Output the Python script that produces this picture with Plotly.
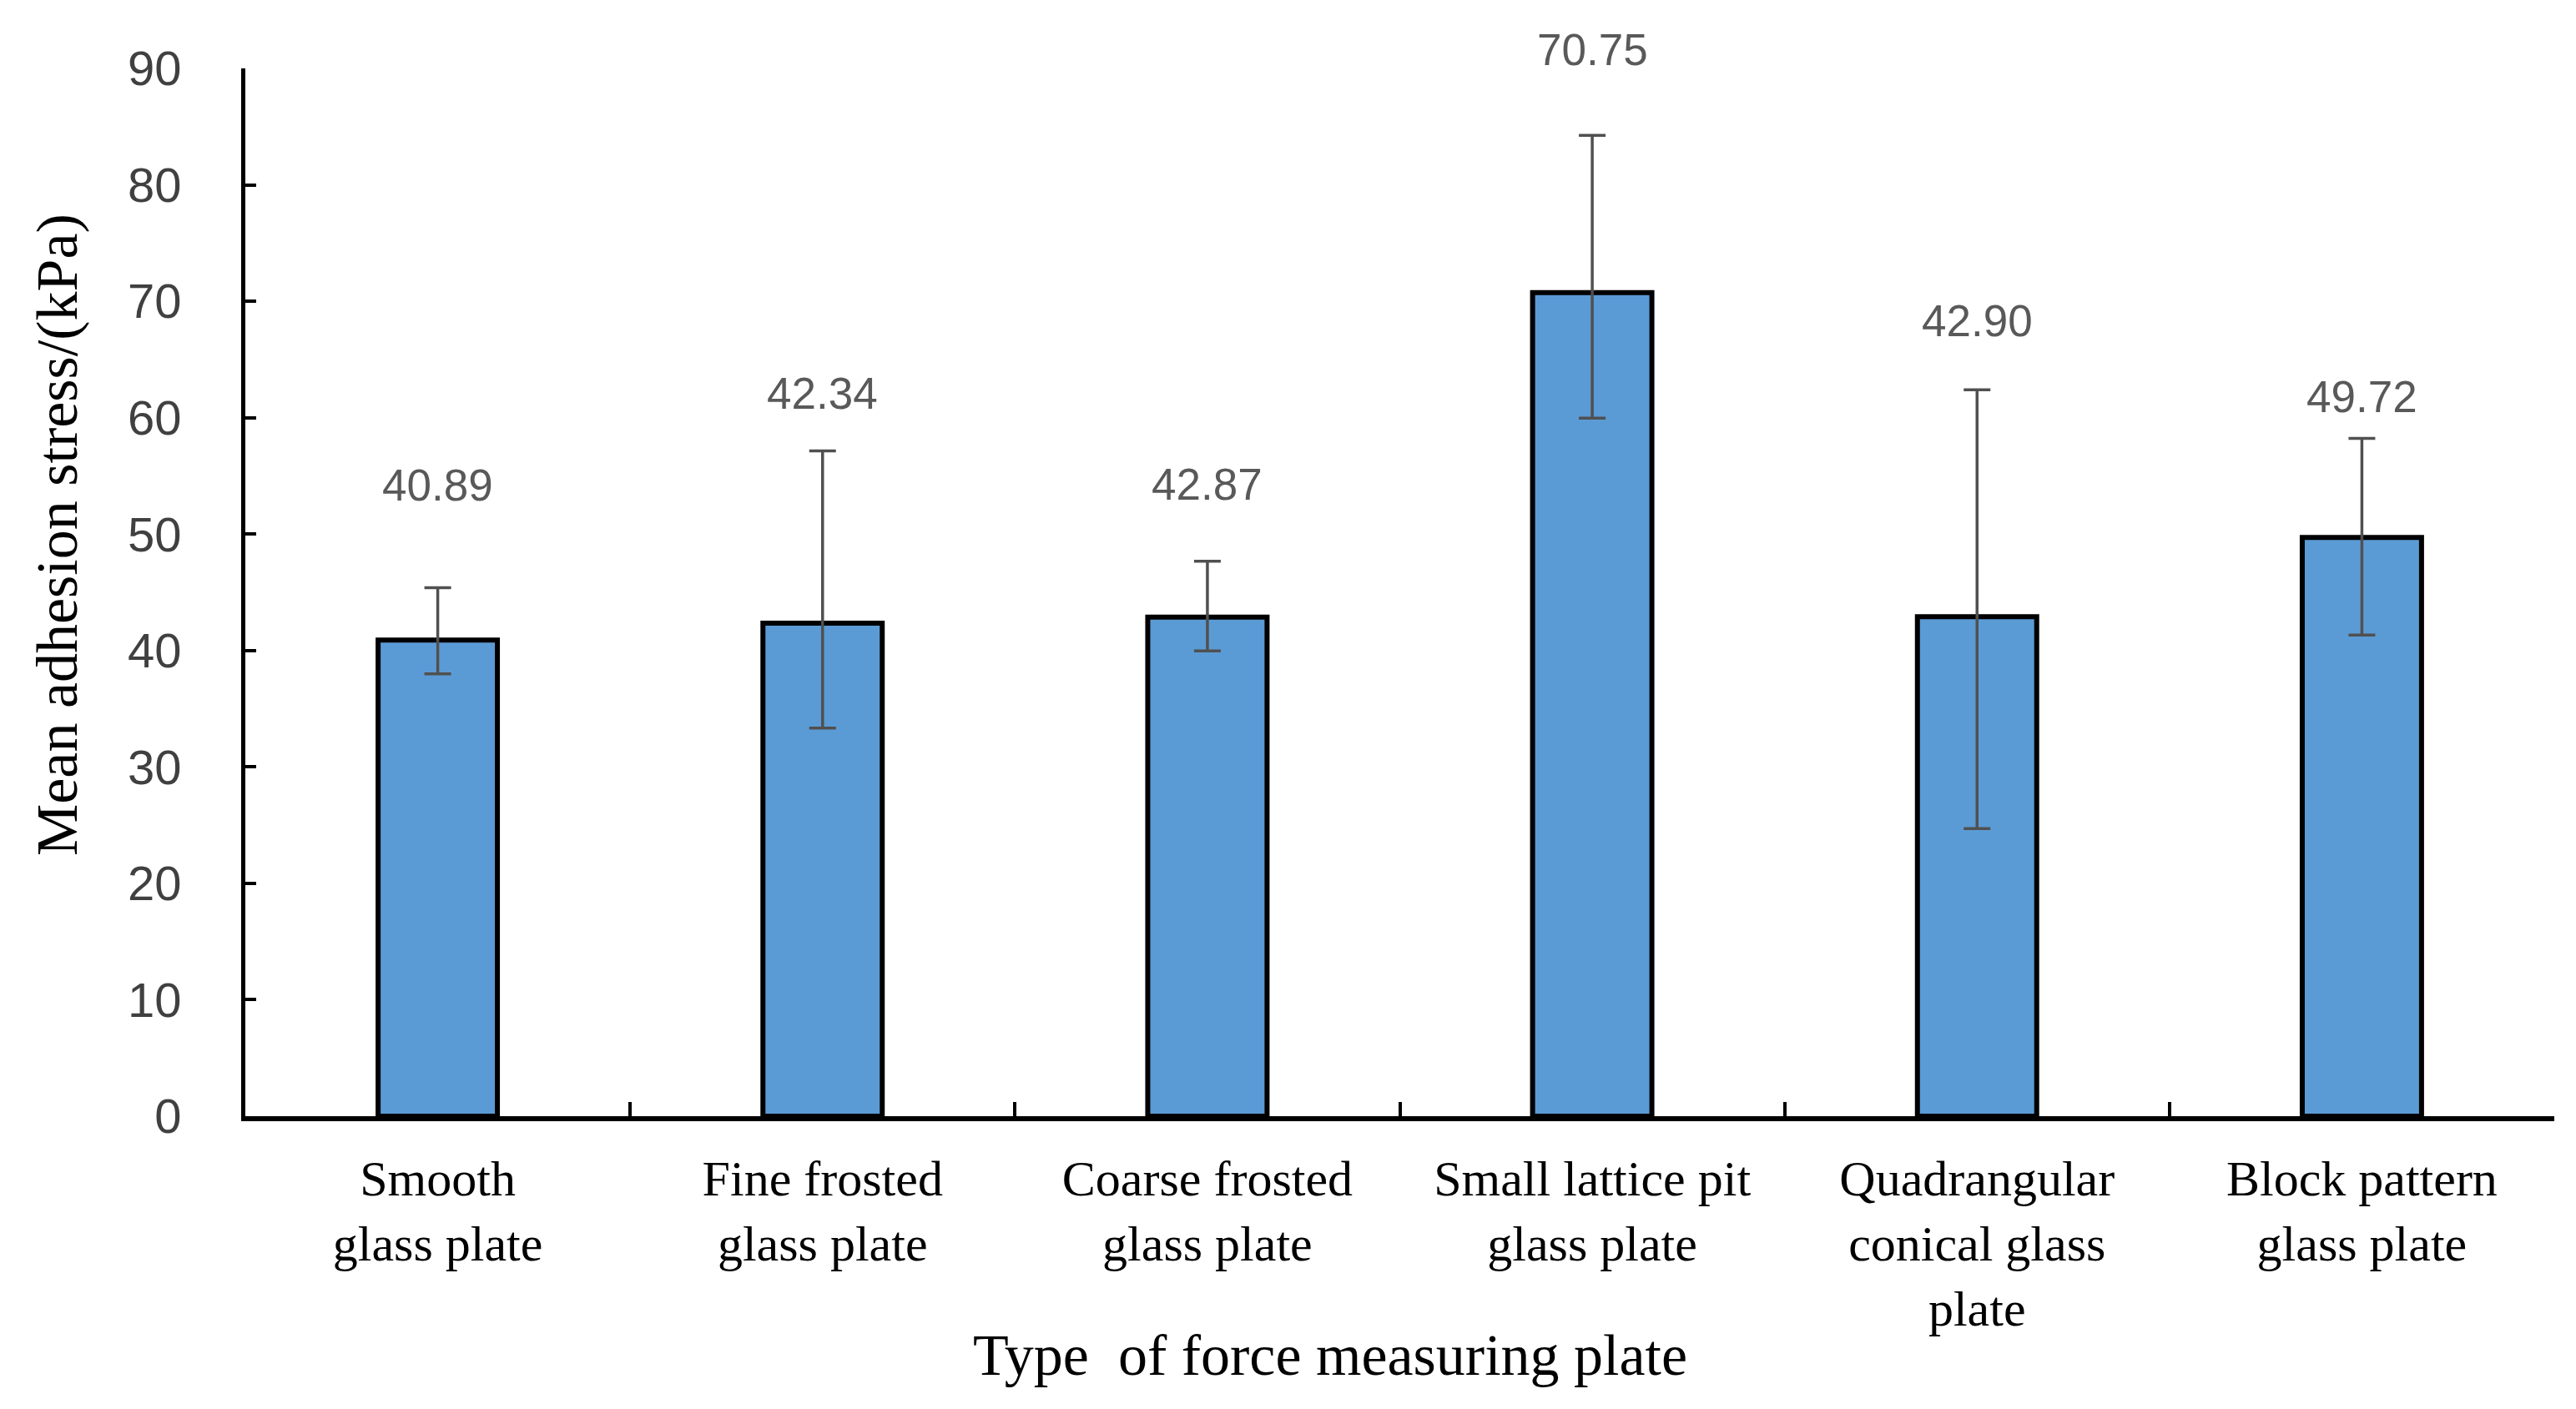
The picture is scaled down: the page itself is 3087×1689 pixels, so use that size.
import plotly.graph_objects as go

categories = [
    "Smooth<br>glass plate",
    "Fine frosted<br>glass plate",
    "Coarse frosted<br>glass plate",
    "Small lattice pit<br>glass plate",
    "Quadrangular<br>conical glass<br>plate",
    "Block pattern<br>glass plate",
]
means = [40.89, 42.34, 42.87, 70.75, 42.90, 49.72]
err_plus = [4.5, 14.8, 4.8, 13.5, 19.5, 8.5]
err_minus = [2.9, 9.0, 2.9, 10.8, 18.2, 8.4]
# heights (in kPa) at which the value labels are written in the original
label_y = [54.2, 62.1, 54.3, 91.6, 68.3, 61.8]

y_ticks = [0, 10, 20, 30, 40, 50, 60, 70, 80, 90]
y_range = [0, 90]

SANS = "Liberation Sans, Arial, sans-serif"
SERIF = "Liberation Serif, Times New Roman, serif"

fig = go.Figure()
fig.add_bar(
    x=categories,
    y=means,
    width=0.31,
    marker=dict(color="#5B9BD5", line=dict(color="black", width=6)),
    error_y=dict(
        type="data",
        symmetric=False,
        array=err_plus,
        arrayminus=err_minus,
        color="#505050",
        thickness=3.5,
        width=16,
    ),
    showlegend=False,
)

# value labels (y given in the y-axis domain so that the one above 90 is not hidden)
for c, v, ly in zip(categories, means, label_y):
    fig.add_annotation(
        x=c, xref="x",
        y=(ly - y_range[0]) / (y_range[1] - y_range[0]), yref="y domain",
        xanchor="center", yanchor="middle",
        text=f"{v:.2f}", showarrow=False,
        font=dict(family=SANS, size=53, color="#595959"),
    )

fig.add_annotation(
    x=-0.0813, y=0.555, xref="paper", yref="paper",
    xanchor="center", yanchor="middle",
    text="Mean adhesion stress/(kPa)", textangle=-90, showarrow=False,
    font=dict(family=SERIF, size=70, color="black"),
)
fig.add_annotation(
    x=0.470, y=-0.2285, xref="paper", yref="paper",
    xanchor="center", yanchor="middle",
    text="Type  of force measuring plate", showarrow=False,
    font=dict(family=SERIF, size=70, color="black"),
)

fig.update_layout(
    width=3087,
    height=1689,
    margin=dict(l=286, r=34, t=74, b=359),
    plot_bgcolor="white",
    paper_bgcolor="white",
    bargap=0.69,
)
fig.update_xaxes(
    type="category",
    range=[-0.5, 5.5],
    tickson="boundaries",
    ticks="inside",
    ticklen=17,
    tickwidth=4,
    tickcolor="black",
    showline=True,
    linewidth=6,
    linecolor="black",
    showgrid=False,
    tickfont=dict(family=SERIF, size=60, color="black"),
    ticklabelstandoff=17,
)
fig.update_yaxes(
    range=y_range,
    tickvals=y_ticks,
    ticks="inside",
    ticklen=13,
    tickwidth=4,
    tickcolor="black",
    showline=True,
    linewidth=5,
    linecolor="black",
    showgrid=False,
    zeroline=False,
    tickfont=dict(family=SANS, size=58, color="#404040"),
    ticklabelstandoff=60,
)

fig.write_html("out.html")
